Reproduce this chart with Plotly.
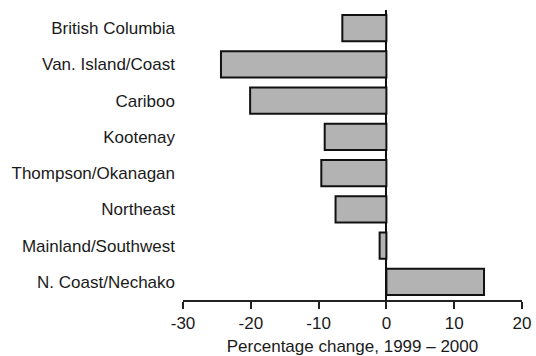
import plotly.graph_objects as go

regions = ["British Columbia", "Van. Island/Coast", "Cariboo", "Kootenay",
           "Thompson/Okanagan", "Northeast", "Mainland/Southwest", "N. Coast/Nechako"]
pct_change = [-6.5, -24.4, -20.1, -9.1, -9.6, -7.5, -1.0, 14.4]
x_ticks = [-30, -20, -10, 0, 10, 20]

FONT = "Liberation Sans, Arial, Helvetica, sans-serif"

fig = go.Figure(go.Bar(
    x=pct_change, y=regions, orientation="h",
    marker=dict(color="#b3b3b3", line=dict(color="#111111", width=2)),
))

fig.update_layout(
    width=536, height=356,
    margin=dict(l=183, r=14, t=10, b=56),
    paper_bgcolor="white", plot_bgcolor="white",
    bargap=0.28,
    showlegend=False,
    font=dict(family=FONT, size=17, color="#1a1a1a"),
)
fig.update_xaxes(
    range=[-30, 20], tickvals=x_ticks, ticktext=[str(v) for v in x_ticks],
    showgrid=False, showline=True, linecolor="#222222", linewidth=2,
    ticks="outside", ticklen=7, tickwidth=2, tickcolor="#222222",
    zeroline=True, zerolinecolor="#111111", zerolinewidth=2,
    title=dict(text="Percentage change, 1999 \u2013 2000", standoff=12,
               font=dict(size=17)),
    tickfont=dict(size=17), automargin=False,
)
fig.update_yaxes(
    categoryorder="array", categoryarray=regions, autorange="reversed",
    showgrid=False, showline=False, ticks="", zeroline=False,
    ticklabelstandoff=7, tickfont=dict(size=17), automargin=False,
)

fig.write_html("out.html", config={"displayModeBar": False},
               post_script="document.body.style.margin='0';")
